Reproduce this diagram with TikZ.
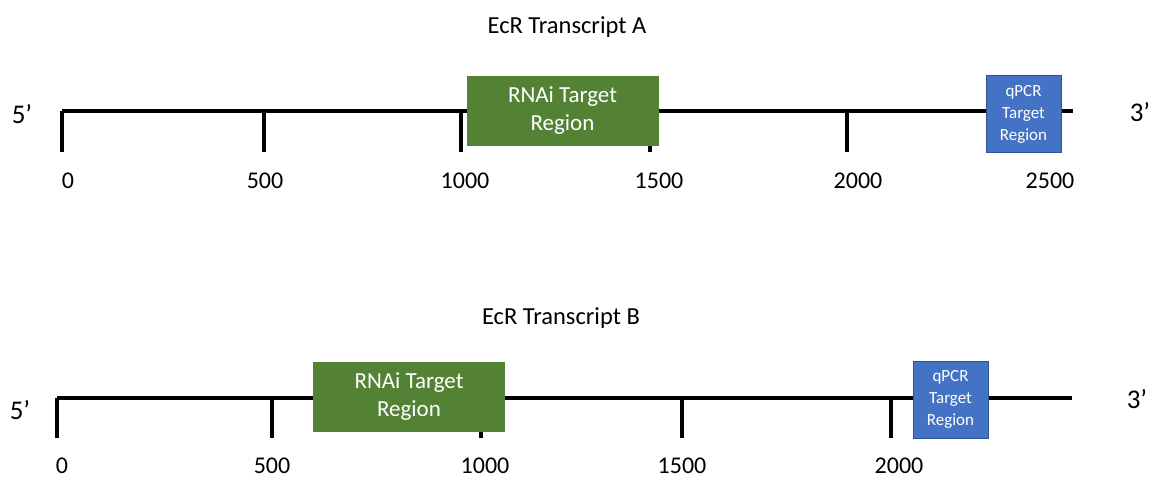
\documentclass[tikz,border=0pt]{standalone}
\usepackage{fontspec}
\setmainfont{Carlito}
\definecolor{rnaigreen}{HTML}{548235}
\definecolor{qpcrblue}{HTML}{4472C4}
\definecolor{qpcrborder}{HTML}{2F528F}
\begin{document}
\begin{tikzpicture}[x=1pt,y=-1pt,
  axisline/.style={line width=4pt,black},
  tickline/.style={line width=3.5pt,black},
  numlabel/.style={font=\fontsize{24}{28}\selectfont,anchor=center,inner sep=0pt},
  endlabel/.style={font=\fontsize{27}{30}\selectfont,anchor=center,inner sep=0pt},
  titlelabel/.style={font=\fontsize{24.5}{28}\selectfont,anchor=center,inner sep=0pt},
  rnaibox/.style={fill=rnaigreen,draw=rnaigreen,text=white,align=center,
    font=\fontsize{23}{28}\selectfont,inner sep=0pt,minimum width=191pt,minimum height=69pt},
  qpcrbox/.style={fill=qpcrblue,draw=qpcrborder,line width=0.8pt,text=white,align=center,
    font=\fontsize{17}{22}\selectfont,inner sep=0pt,minimum width=75pt,minimum height=77pt}]
\useasboundingbox (0,0) rectangle (1156,478);
\fill[white] (0,0) rectangle (1156,478);

% ---------- Transcript A ----------
\node[titlelabel] (titleA) at (567,27) {EcR Transcript A};
\coordinate (aL) at (62,111);
\coordinate (aR) at (1073,111);
\draw[axisline] (aL) -- (aR);
\foreach \x/\n in {62/a0,264/a500,461/a1000,650/a1500,847/a2000,1040/a2500}{
  \coordinate (\n top) at (\x,111);
  \coordinate (\n bot) at (\x,152);
  \draw[tickline] (\n top) -- (\n bot);
}
\node[numlabel] (la0) at (68,181) {0};
\node[numlabel] (la500) at (265,181) {500};
\node[numlabel] (la1000) at (465,181) {1000};
\node[numlabel] (la1500) at (659,181) {1500};
\node[numlabel] (la2000) at (858,181) {2000};
\node[numlabel] (la2500) at (1050,181) {2500};
\node[endlabel] (fiveA) at (22,114) {5’};
\node[endlabel] (threeA) at (1140,112) {3’};
\node[rnaibox] (rnaiA) at (562.5,110.5) {RNAi Target\\Region};
\node[qpcrbox] (qpcrA) at (1023.5,114) {qPCR\\Target\\Region};

% ---------- Transcript B ----------
\node[titlelabel] (titleB) at (561,318) {EcR Transcript B};
\coordinate (bL) at (57,398);
\coordinate (bR) at (1072,398);
\draw[axisline] (bL) -- (bR);
\foreach \x/\n in {57/b0,272/b500,481/b1000,682/b1500,891/b2000}{
  \coordinate (\n top) at (\x,398);
  \coordinate (\n bot) at (\x,438);
  \draw[tickline] (\n top) -- (\n bot);
}
\node[numlabel] (lb0) at (62,466) {0};
\node[numlabel] (lb500) at (272,466) {500};
\node[numlabel] (lb1000) at (485,466) {1000};
\node[numlabel] (lb1500) at (682,466) {1500};
\node[numlabel] (lb2000) at (899,466) {2000};
\node[endlabel] (fiveB) at (20,410) {5’};
\node[endlabel] (threeB) at (1137,399) {3’};
\node[rnaibox] (rnaiB) at (409,396.5) {RNAi Target\\Region};
\node[qpcrbox] (qpcrB) at (950.5,399.5) {qPCR\\Target\\Region};
\end{tikzpicture}
\end{document}
